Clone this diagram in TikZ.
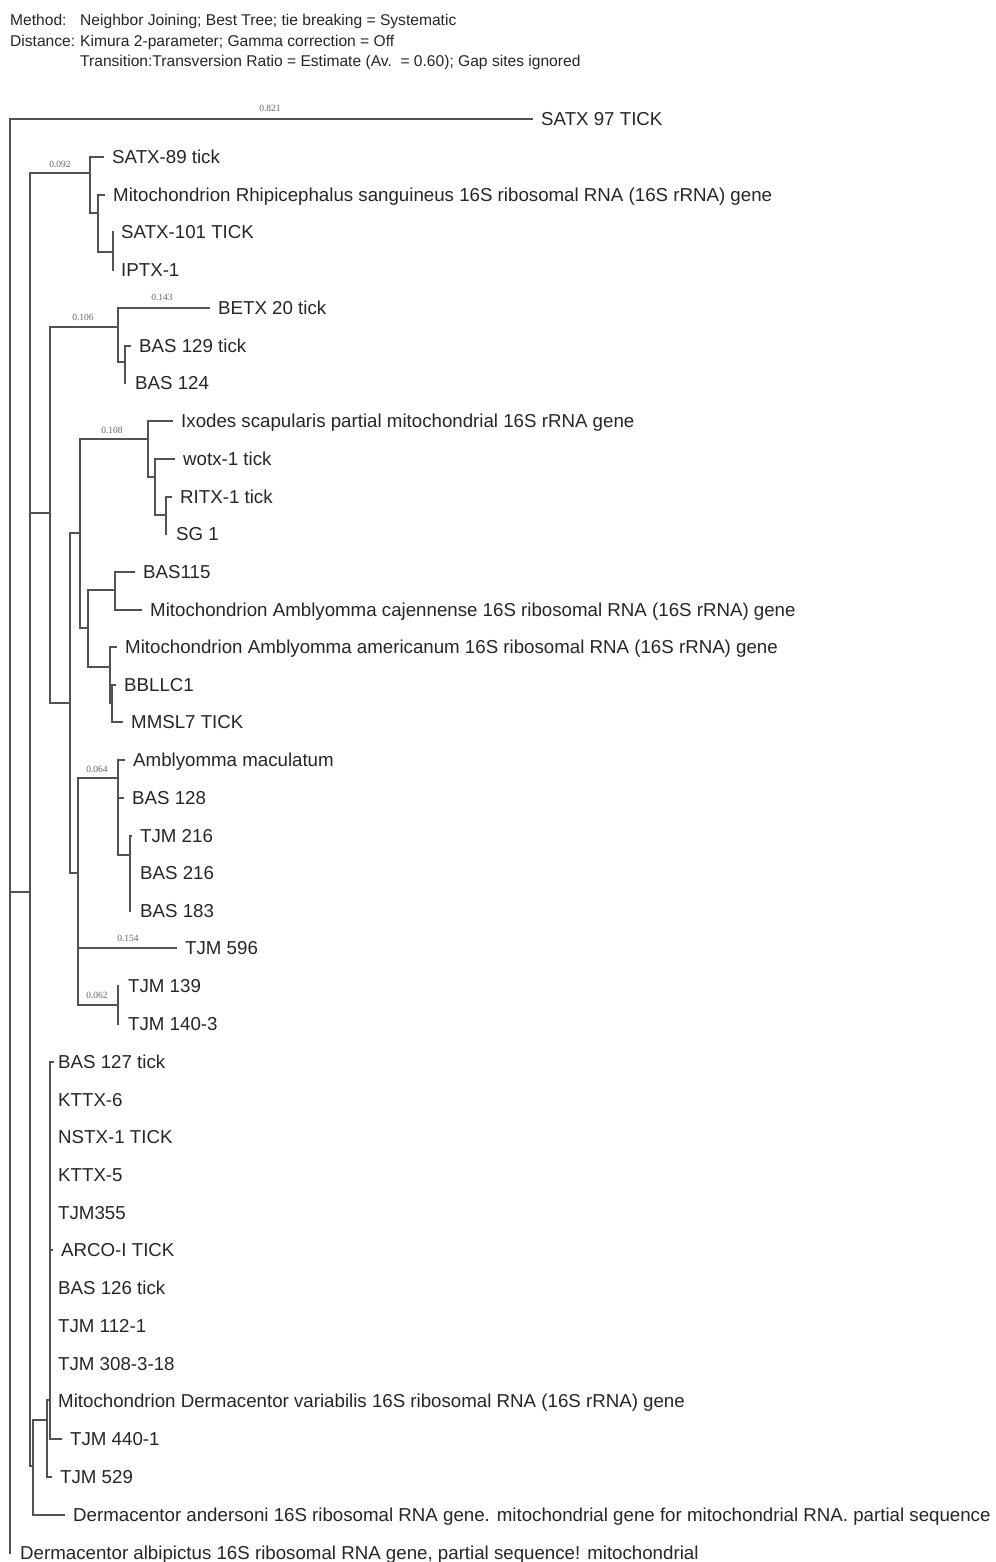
\documentclass[tikz,border=0pt]{standalone}
\usepackage{fontspec}
\setmainfont{Liberation Sans}
\newfontfamily\serifbl{Liberation Serif}
\begin{document}
\begin{tikzpicture}[x=1pt,y=-1pt,
 br/.style={draw=black!68, line width=1.5pt, line cap=rect},
 leaf/.style={anchor=west, inner xsep=9pt, inner ysep=0pt, text height=13.4pt, text depth=0pt, font=\fontsize{18.7}{21}\selectfont, text=black!85},
 bl/.style={font=\serifbl\fontsize{9.5}{10}\selectfont, inner sep=0pt, text=black!60, anchor=base},
 hd/.style={anchor=base west, inner sep=0pt, font=\fontsize{15.6}{17}\selectfont, text=black!85}]
\useasboundingbox[fill=white] (0,0) rectangle (995,1562);
% header
\node[hd] (m1) at (10,26) {Method:};
\node[hd] (m2) at (80,26) {Neighbor Joining; Best Tree; tie breaking = Systematic};
\node[hd] (d1) at (10,47) {Distance:};
\node[hd] (d2) at (80,47) {Kimura 2-parameter; Gamma correction = Off};
\node[hd] (t1) at (80,67) {Transition:Transversion Ratio = Estimate (Av.\ \ = 0.60); Gap sites ignored};
% leaves
\node[leaf] (L1) at (532,119) {SATX 97 TICK};
\node[leaf] (L2) at (103,157) {SATX-89 tick};
\node[leaf] (L3) at (104,195) {Mitochondrion Rhipicephalus sanguineus 16S ribosomal RNA (16S rRNA) gene};
\node[leaf] (L4) at (112,232) {SATX-101 TICK};
\node[leaf] (L5) at (112,270) {IPTX-1};
\node[leaf] (L6) at (209,308) {BETX 20 tick};
\node[leaf] (L7) at (130,346) {BAS 129 tick};
\node[leaf] (L8) at (126,383) {BAS 124};
\node[leaf] (L9) at (172,421) {Ixodes scapularis partial mitochondrial 16S rRNA gene};
\node[leaf] (L10) at (174,459) {wotx-1 tick};
\node[leaf] (L11) at (171,497) {RITX-1 tick};
\node[leaf] (L12) at (167,534) {SG 1};
\node[leaf] (L13) at (134,572) {BAS115};
\node[leaf] (L14) at (141,610) {Mitochondrion Amblyomma cajennense 16S ribosomal RNA (16S rRNA) gene};
\node[leaf] (L15) at (116,647) {Mitochondrion Amblyomma americanum 16S ribosomal RNA (16S rRNA) gene};
\node[leaf] (L16) at (115,685) {BBLLC1};
\node[leaf] (L17) at (122,722) {MMSL7 TICK};
\node[leaf] (L18) at (124,760) {Amblyomma maculatum};
\node[leaf] (L19) at (123,798) {BAS 128};
\node[leaf] (L20) at (131,836) {TJM 216};
\node[leaf] (L21) at (131,873) {BAS 216};
\node[leaf] (L22) at (131,911) {BAS 183};
\node[leaf] (L23) at (176,948) {TJM 596};
\node[leaf] (L24) at (119,986) {TJM 139};
\node[leaf] (L25) at (119,1024) {TJM 140-3};
\node[leaf] (L26) at (49,1062) {BAS 127 tick};
\node[leaf] (L27) at (49,1100) {KTTX-6};
\node[leaf] (L28) at (49,1137) {NSTX-1 TICK};
\node[leaf] (L29) at (49,1175) {KTTX-5};
\node[leaf] (L30) at (49,1213) {TJM355};
\node[leaf] (L31) at (52,1250) {ARCO-I TICK};
\node[leaf] (L32) at (49,1288) {BAS 126 tick};
\node[leaf] (L33) at (49,1326) {TJM 112-1};
\node[leaf] (L34) at (49,1364) {TJM 308-3-18};
\node[leaf] (L35) at (49,1401) {Mitochondrion Dermacentor variabilis 16S ribosomal RNA (16S rRNA) gene};
\node[leaf] (L36) at (61,1439) {TJM 440-1};
\node[leaf] (L37) at (51,1477) {TJM 529};
\node[leaf] (L38) at (64,1515) {Dermacentor andersoni 16S ribosomal RNA gene. mitochondrial gene for mitochondrial RNA. partial sequence};
\node[leaf] (L39) at (11,1553) {Dermacentor albipictus 16S ribosomal RNA gene, partial sequence! mitochondrial};
% internal nodes
\coordinate (root) at (10,892);
\coordinate (N1) at (30,892);
\coordinate (a) at (90,173);
\coordinate (b) at (98,213);
\coordinate (c) at (113,252);
\coordinate (N2) at (50,513);
\coordinate (d) at (118,327);
\coordinate (e) at (125,362);
\coordinate (N3) at (70,703);
\coordinate (N4) at (80,533);
\coordinate (f) at (148,439);
\coordinate (g) at (155,477);
\coordinate (h) at (166,515);
\coordinate (N5) at (88,628);
\coordinate (i) at (115,590);
\coordinate (j) at (110,667);
\coordinate (k) at (112,703);
\coordinate (n) at (78,873);
\coordinate (l) at (118,778);
\coordinate (m) at (130,855);
\coordinate (o) at (118,1005);
\coordinate (r) at (33,1466);
\coordinate (q) at (47,1420);
\coordinate (p) at (50,1400);
% verticals
\draw[br] (root |- L1.west) -- (root |- L39.west);
\draw[br] (N1 |- a) -- (N1 |- r);
\draw[br] (a |- L2.west) -- (a |- b);
\draw[br] (b |- L3.west) -- (b |- c);
\draw[br] (c |- L4.west) -- (c |- L5.west);
\draw[br] (N2 |- d) -- (N2 |- N3);
\draw[br] (d |- L6.west) -- (d |- e);
\draw[br] (e |- L7.west) -- (e |- L8.west);
\draw[br] (N3 |- N4) -- (N3 |- n);
\draw[br] (N4 |- f) -- (N4 |- N5);
\draw[br] (f |- L9.west) -- (f |- g);
\draw[br] (g |- L10.west) -- (g |- h);
\draw[br] (h |- L11.west) -- (h |- L12.west);
\draw[br] (N5 |- i) -- (N5 |- j);
\draw[br] (i |- L13.west) -- (i |- L14.west);
\draw[br] (j |- L15.west) -- (j |- k);
\draw[br] (k |- L16.west) -- (k |- L17.west);
\draw[br] (n |- l) -- (n |- o);
\draw[br] (l |- L18.west) -- (l |- m);
\draw[br] (m |- L20.west) -- (m |- L22.west);
\draw[br] (o |- L24.west) -- (o |- L25.west);
\draw[br] (r |- q) -- (r |- L38.west);
\draw[br] (q |- p) -- (q |- L37.west);
\draw[br] (p |- L26.west) -- (p |- L36.west);
% internal horizontals
\draw[br] (root) -- (N1);
\draw[br] (N1 |- a) -- (a);
\draw[br] (a |- b) -- (b);
\draw[br] (b |- c) -- (c);
\draw[br] (N1 |- N2) -- (N2);
\draw[br] (N2 |- d) -- (d);
\draw[br] (d |- e) -- (e);
\draw[br] (N2 |- N3) -- (N3);
\draw[br] (N3 |- N4) -- (N4);
\draw[br] (N4 |- f) -- (f);
\draw[br] (f |- g) -- (g);
\draw[br] (g |- h) -- (h);
\draw[br] (N4 |- N5) -- (N5);
\draw[br] (N5 |- i) -- (i);
\draw[br] (N5 |- j) -- (j);
\draw[br] (j |- k) -- (k);
\draw[br] (N3 |- n) -- (n);
\draw[br] (n |- l) -- (l);
\draw[br] (l |- m) -- (m);
\draw[br] (n |- o) -- (o);
\draw[br] (N1 |- r) -- (r);
\draw[br] (r |- q) -- (q);
\draw[br] (q |- p) -- (p);
% leaf branches
\draw[br] (root |- L1.west) -- (L1.west);
\draw[br] (a |- L2.west) -- (L2.west);
\draw[br] (b |- L3.west) -- (L3.west);
\draw[br] (d |- L6.west) -- (L6.west);
\draw[br] (e |- L7.west) -- (L7.west);
\draw[br] (f |- L9.west) -- (L9.west);
\draw[br] (g |- L10.west) -- (L10.west);
\draw[br] (h |- L11.west) -- (L11.west);
\draw[br] (i |- L13.west) -- (L13.west);
\draw[br] (i |- L14.west) -- (L14.west);
\draw[br] (j |- L15.west) -- (L15.west);
\draw[br] (k |- L16.west) -- (L16.west);
\draw[br] (k |- L17.west) -- (L17.west);
\draw[br] (l |- L18.west) -- (L18.west);
\draw[br] (l |- L19.west) -- (L19.west);
\draw[br] (m |- L20.west) -- (L20.west);
\draw[br] (n |- L23.west) -- (L23.west);
\draw[br] (p |- L26.west) -- ++(3,0);
\draw[br] (p |- L31.west) -- (L31.west);
\draw[br] (p |- L36.west) -- (L36.west);
\draw[br] (q |- L37.west) -- (L37.west);
\draw[br] (r |- L38.west) -- (L38.west);
% branch length labels
\node[bl] (b1) at (270,112) {0.821};
\node[bl] (b2) at (60,168) {0.092};
\node[bl] (b3) at (83,320) {0.106};
\node[bl] (b4) at (162,300) {0.143};
\node[bl] (b5) at (112,433) {0.108};
\node[bl] (b6) at (97,772) {0.064};
\node[bl] (b7) at (128,941) {0.154};
\node[bl] (b8) at (97,998) {0.062};
\end{tikzpicture}
\end{document}
